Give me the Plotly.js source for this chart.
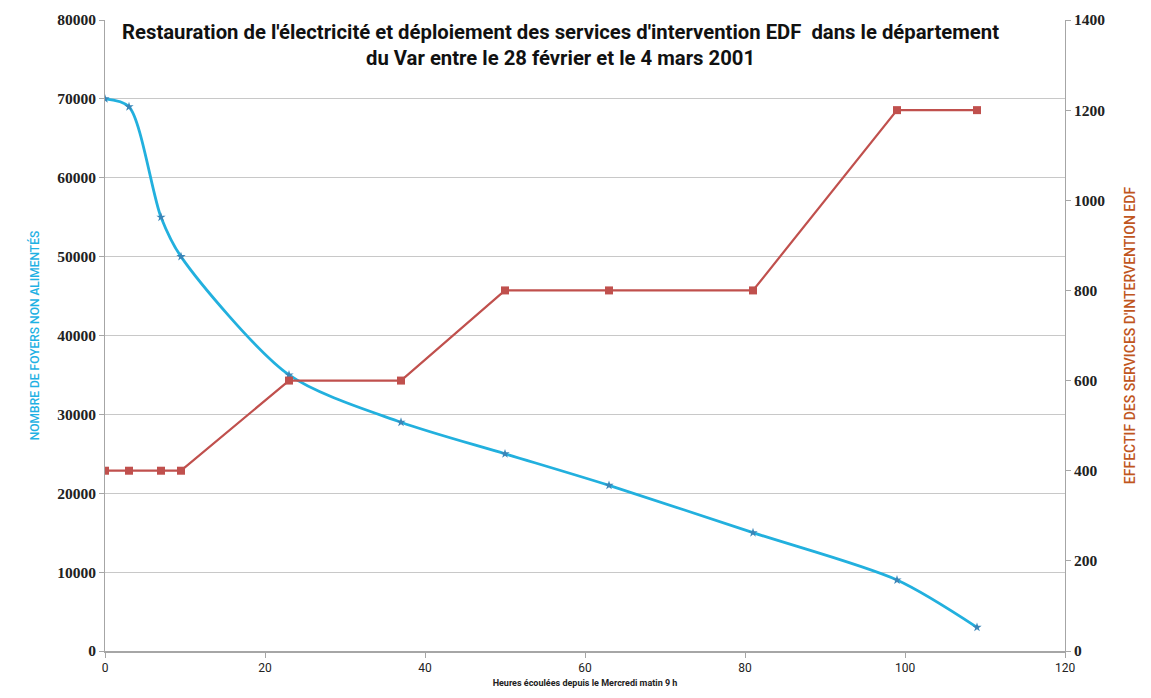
<!DOCTYPE html>
<html><head><meta charset="utf-8">
<script src="https://cdn.plot.ly/plotly-3.0.1.min.js"></script>
<style>html,body{margin:0;padding:0;background:#fff}#chart{width:1151px;height:698px}</style>
</head><body><div id="chart"></div>
<script>
const hours = [0, 3, 7, 9.5, 23, 37, 50, 63, 81, 99, 109];
const foyersNonAlimentes = [70000, 69000, 55000, 50000, 35000, 29000, 25000, 21000, 15000, 9000, 3000];
const effectifEDF = [400, 400, 400, 400, 600, 600, 800, 800, 800, 1200, 1200];
const leftTicks = [0, 10000, 20000, 30000, 40000, 50000, 60000, 70000, 80000];
const rightTicks = [0, 200, 400, 600, 800, 1000, 1200, 1400];
const xTicks = [0, 20, 40, 60, 80, 100, 120];

const tickFont = {family: 'Liberation Serif, DejaVu Serif, serif', size: 15.5, color: '#222', weight: 'bold'};
const narrow = 'Liberation Sans Narrow, Roboto, Noto Sans, sans-serif';

const traces = [
  {x: hours, y: foyersNonAlimentes, type: 'scatter', mode: 'lines+markers', yaxis: 'y',
   line: {color: '#22b0de', width: 2.8, shape: 'spline', smoothing: 0.8},
   marker: {symbol: 'star', size: 7, color: '#3a86b8'}, name: 'Foyers'},
  {x: hours, y: effectifEDF, type: 'scatter', mode: 'lines+markers', yaxis: 'y2',
   line: {color: '#c0504d', width: 2.2},
   marker: {symbol: 'square', size: 8, color: '#c0504d'}, name: 'Effectif'}
];

const layout = {
  width: 1151, height: 698,
  margin: {l: 105, r: 86, t: 20, b: 47},
  paper_bgcolor: '#fff', plot_bgcolor: '#fff',
  showlegend: false,
  title: {text: "<b>Restauration de l'électricité et déploiement des services d'intervention EDF  dans le département<br>du Var entre le 28 février et le 4 mars 2001</b>",
          font: {family: narrow, size: 20.3, color: '#111'}, x: 0.487, xanchor: 'center', xref: 'container',
          y: 0.944, yanchor: 'middle', yref: 'container'},
  xaxis: {range: [0, 120], tickvals: xTicks, ticktext: xTicks.map(String), showgrid: false, zeroline: false,
          showline: true, linecolor: '#a6a6a6', linewidth: 1.5, ticks: 'outside', ticklen: 5, tickcolor: '#a6a6a6',
          tickfont: {family: narrow, size: 12, color: '#222'},
          title: {text: '<b>Heures écoulées depuis le Mercredi matin 9 h</b>', font: {family: narrow, size: 9, color: '#222'}, standoff: 6}},
  yaxis: {range: [0, 80000], tickvals: leftTicks, ticktext: leftTicks.map(String), showgrid: true, gridcolor: '#c8c8c8', gridwidth: 1,
          zeroline: false, showline: true, linecolor: '#a6a6a6', ticks: 'outside', ticklen: 5, tickcolor: '#a6a6a6',
          tickfont: tickFont,
          title: {text: 'NOMBRE DE FOYERS NON ALIMENTÉS', font: {family: narrow, size: 12, color: '#1fb1e3', weight: 500}, standoff: 14}},
  yaxis2: {range: [0, 1400], tickvals: rightTicks, ticktext: rightTicks.map(String), overlaying: 'y', side: 'right',
           showgrid: false, zeroline: false, showline: true, linecolor: '#a6a6a6', ticks: 'outside', ticklen: 5, tickcolor: '#a6a6a6',
           tickfont: tickFont,
           title: {text: "EFFECTIF DES SERVICES D'INTERVENTION EDF", font: {family: narrow, size: 14, color: '#c0561e', weight: 500}, standoff: 20}}
};
Plotly.newPlot('chart', traces, layout, {displayModeBar: false});
</script></body></html>
